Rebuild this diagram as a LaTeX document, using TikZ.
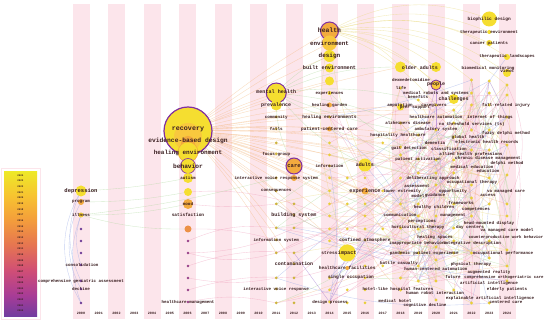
\documentclass[tikz,border=0pt]{standalone}
\usepackage{fontspec}
\setmonofont{Liberation Mono}
\definecolor{cStripe}{RGB}{252,229,235}
\definecolor{cY}{RGB}{245,222,48}
\definecolor{cY2}{RGB}{240,205,60}
\definecolor{cY3}{RGB}{248,200,62}
\definecolor{cO}{RGB}{242,170,62}
\definecolor{cO2}{RGB}{236,145,70}
\definecolor{cRing}{RGB}{128,48,160}
\definecolor{cP}{RGB}{110,60,150}
\definecolor{cM}{RGB}{150,62,136}
\definecolor{cD}{RGB}{205,180,62}
\definecolor{cDot}{RGB}{232,206,58}
\definecolor{labc}{RGB}{58,30,32}
\definecolor{lkP}{RGB}{238,150,182}
\definecolor{lkO}{RGB}{244,182,122}
\definecolor{lkG}{RGB}{168,214,150}
\definecolor{lkB}{RGB}{140,160,230}
\definecolor{lkY}{RGB}{232,214,110}
\definecolor{lkV}{RGB}{140,90,200}
\definecolor{lg1}{RGB}{238,232,40}
\definecolor{lg2}{RGB}{247,196,48}
\definecolor{lg3}{RGB}{244,160,58}
\definecolor{lg4}{RGB}{230,118,80}
\definecolor{lg5}{RGB}{208,78,118}
\definecolor{lg6}{RGB}{168,60,150}
\definecolor{lg7}{RGB}{112,60,160}
\pgfdeclareverticalshading{legsh}{100bp}{color(0bp)=(lg7); color(25bp)=(lg7); color(32.5bp)=(lg6); color(41bp)=(lg5); color(50bp)=(lg4); color(59bp)=(lg3); color(67bp)=(lg2); color(75bp)=(lg1); color(100bp)=(lg1)}
\pgfdeclarelayer{bgl}
\pgfdeclarelayer{lnk}
\pgfsetlayers{bgl,lnk,main}
\pgfmathdeclarerandomlist{lkc}{{lkP}{lkP}{lkP}{lkO}{lkG}{lkB}{lkY}}
\pgfmathdeclarerandomlist{midn}{{c9}{c10}{c12}{c13}{c15}{e3}{e5}{e6}{e8}{e9}{f10}{f11}{f13}{f14}{f15}{f16}{f17}{f18}{f19}{f20}{f21}{g1}{g2}{h1}{h2}{h7}{f6}{f8}{f9}{h4}{h6}{h9}}
\tikzset{
  kc/.style 2 args={circle,inner sep=0pt,minimum size=#1pt,fill=#2},
  lb/.style={inner sep=0pt,text=labc,font=\fontsize{#1}{#1}\selectfont\ttfamily\bfseries},
  yl/.style={inner sep=0pt,text=labc,font=\fontsize{3.4}{3.4}\selectfont\ttfamily\bfseries},
  ll/.style={inner sep=0pt,text=labc,font=\fontsize{2.5}{2.5}\selectfont\ttfamily\bfseries},
  lk/.style={draw=#1,line width=0.35pt,opacity=0.5},
  ringed/.style={draw=cRing,line width=#1},
  stripe/.style={fill=cStripe},
}
\newcommand\tlD[5]{\node[kc={#4}{#5}] (#1) at (#2,#3) {};}
\newcommand\tlL[5]{\node[lb=#5] (#1) at (#2,#3) {#4};}
\begin{document}
\begin{tikzpicture}[x=1pt,y=-1pt]
\useasboundingbox (0,0) rectangle (550,323);
\begin{pgfonlayer}{bgl}
\fill[white] (0,0) rectangle (550,323);
\foreach \i in {0,2,...,24} \fill[stripe] ({81+\i*17.75-8.5},4) rectangle ({81+\i*17.75+8.5},319);
\draw[cStripe,line width=1pt] (1.5,168.5) rectangle (40,320);
\shade[shading=legsh] (4,172) rectangle (37,317);
\end{pgfonlayer}
% legend labels
\foreach \i [evaluate=\i as \yy using int(2024-\i)] in {0,...,24} \node[ll] (lg\i) at (20.5,{175.5+\i*5.65}) {\yy};
% year labels
\foreach \i [evaluate=\i as \yy using int(2000+\i)] in {0,...,24} \node[yl] (yr\i) at ({81+\i*17.75},313) {\yy};

% ---- 2000
\tlD{a1}{81}{191}{11}{cY}
\tlD{a2}{81}{202}{6}{cO}
\tlD{a3}{81}{215}{5}{cY2}
\tlD{a4}{81}{229}{2.8}{cP}
\tlD{a5}{81}{241}{2.8}{cP}
\tlD{a6}{81}{253}{2.8}{cP}
\tlD{a7}{81}{265}{2.8}{cP}
\tlD{a8}{81}{281}{2.8}{cP}
\tlD{a9}{81}{289}{2.8}{cP}
\tlD{a10}{81}{303}{2.8}{cP}
% ---- 2006
\node[kc={48}{cY},ringed=1.2pt] (rec) at (188,131) {};
\fill[cY3] (188,137) circle (14);
\fill[cO] (188,143) circle (7);
\node[kc={20}{cY},draw=cO,line width=0.5pt] (b2) at (188,152) {};
\node[kc={15}{cY},ringed=0.6pt] (b3) at (188,166) {};
\tlD{b4}{188}{178}{10}{cY}
\tlD{b5}{188}{192}{8}{cY}
\tlD{b6}{188}{204}{10}{cO}
\tlD{b7}{188}{229}{7}{cO2}
\tlD{b8}{188}{241}{2.8}{cM}
\tlD{b9}{188}{253}{2.8}{cM}
\tlD{b10}{188}{266}{2.8}{cM}
\tlD{b11}{188}{278}{2.8}{cM}
\tlD{b12}{188}{290}{2.8}{cM}
\tlD{b13}{188}{302}{2.8}{cM}
% ---- 2011
\node[kc={20}{cY},ringed=1pt] (c1) at (276.25,93) {};
\tlD{c2}{276.25}{105}{11}{cY}
\foreach \y [count=\n from 3] in {117,129,143,154,178,191,204,228,240,253,278,289,303} \node[kc={3}{cD}] (c\n) at (276.25,\y) {};
% ---- 2012
\node[kc={16}{cO},ringed=1pt] (e1) at (294,166) {};
\tlD{e2}{294}{178}{6}{cO}
\foreach \y [count=\n from 3] in {204,215,228,253,264,278,303} \node[kc={3}{cD}] (e\n) at (294,\y) {};
% ---- 2014
\node[kc={18}{cO},ringed=1pt] (f1) at (329.5,31) {};
\tlD{f2}{329.5}{43}{15}{cY3}
\tlD{f3}{329.5}{56}{12}{cY}
\tlD{f4}{329.5}{68}{9}{cY}
\tlD{f5}{329.5}{81}{9}{cY}
\tlD{f6}{329.5}{93}{4}{cY}
\tlD{f7}{329.5}{105}{5}{cO}
\tlD{f8}{329.5}{117}{3}{cDot}
\tlD{f9}{329.5}{129}{5}{cO}
\foreach \y [count=\n from 10] in {143,155,166,178,191,204,216,229,241,278,290,302} \node[kc={3}{cDot}] (f\n) at (329.5,\y) {};
% ---- 2015
\tlD{g1}{347.25}{253}{17}{cY}
\tlD{g2}{347.25}{268}{4}{cO}
\foreach \y [count=\n from 3] in {178,204,229,290,303} \node[kc={3}{cDot}] (g\n) at (347.25,\y) {};
% ---- 2016
\tlD{h1}{365}{165}{13}{cY}
\tlD{h2}{365}{191}{7}{cO}
\foreach \y [count=\n from 3] in {178,204,216,229,240,266,278,290,303} \node[kc={3}{cDot}] (h\n) at (365,\y) {};
% ---- 2017
\foreach \y [count=\n] in {143,191,229,266} \node[kc={3}{cDot}] (p17-\n) at (382.75,\y) {};
% ---- right columns
\foreach \c/\xx/\ys in {18/400.5/{88,123,147,155,178,204,228,253,278,290},
  19/418.25/{100,135,159,173,204,216,229,253,266,281},
  20/436/{105,130,160,173,185,216,247,260,281,300},
  21/453.75/{110,123,137,160,173,204,228,241,253,290},
  22/471.5/{80,93,105,130,150,185,198,216,253,303},
  23/489.25/{81,93,105,130,150,178,204,241,258,303},
  24/507/{85,95,117,145,175,204,216,250,266,281}}
  {\foreach \y [count=\i] in \ys {\node[kc={3.2}{cDot}] (p\c-\i) at (\xx,\y) {};}}
\tlD{k1}{400.5}{67}{11}{cY}
\tlD{k2}{400.5}{107}{7}{cY}
\tlD{k3}{436}{67}{10}{cY}
\node[kc={10}{cY3},ringed=0.8pt] (peoc) at (436,85) {};
\tlD{chlc}{453.75}{99}{10}{cY}
\tlD{bioc}{489.25}{19}{15}{cY}
\tlD{tec}{489.25}{32}{4}{cY}
\tlD{cpc}{489.25}{43}{6}{cY}
\tlD{tlc}{507}{57}{6}{cY}
\tlD{vwc}{507}{73}{8}{cY}

% ---- links
\begin{pgfonlayer}{lnk}
\pgfmathsetseed{11}
\foreach \k in {1,...,140}{%
  \pgfmathtruncatemacro\ca{random(18,24)}%
  \pgfmathtruncatemacro\cb{random(18,24)}%
  \pgfmathtruncatemacro\ia{random(1,10)}%
  \pgfmathtruncatemacro\ib{random(1,10)}%
  \pgfmathtruncatemacro\bd{random(0,60)-30}%
  \pgfmathrandomitem\cl{lkc}%
  \draw[lk=\cl] (p\ca-\ia.center) to[bend left=\bd] (p\cb-\ib.center);
}
\foreach \k in {1,...,70}{%
  \pgfmathrandomitem\na{midn}%
  \pgfmathtruncatemacro\cb{random(18,24)}%
  \pgfmathtruncatemacro\ib{random(1,10)}%
  \pgfmathtruncatemacro\bd{random(0,40)-20}%
  \pgfmathrandomitem\cl{lkc}%
  \draw[lk=\cl] (\na.center) to[bend left=\bd] (p\cb-\ib.center);
}
\foreach \t in {c1,c2,c4,c6,c8,c10,c12,e1,e2,e4,e7,f1,f2,f3,f5,f7,f9,f12,f14,f16,h1,h2,h5,g1,k1,p18-3,p19-2,p20-4,p21-1,p22-5,p23-6,p24-3,p20-8,p22-9,p19-6,p21-5,p17-1,p17-2,p23-3,p24-6}
  \draw[lk=lkO] (rec.center) to[bend left=5] (\t.center);
\foreach \t/\b in {bioc/25,k1/20,peoc/18,chlc/15,p22-1/20,p24-1/22,tlc/25,vwc/22,h1/-10,g1/-15,p20-1/15,tec/22,k3/18,cpc/20}
  \draw[lk=lkY] (f1.center) to[bend left=\b] (\t.center);
\foreach \t/\b in {f4/10,f8/-10,h1/-12,k1/12,p19-1/10,p18-2/8,e1/-15,f3/12,p21-3/-8}
  \draw[lk=lkG] (c1.center) to[bend left=\b] (\t.center);
\foreach \s/\t/\b in {b8/c10/15,b9/c12/-15,b10/e6/12,b11/c13/-10,b12/e8/10,b7/c11/8,b6/c9/-6,b13/c15/12,b5/e3/10,b9/e5/-12}
  \draw[lk=lkP] (\s.center) to[bend left=\b] (\t.center);
\foreach \s/\t/\b in {a1/a10/-30,a1/a8/-25,a3/a10/-20,a2/a9/-28,a3/a7/-18}
  \draw[lk=lkB] (\s.center) to[bend left=\b] (\t.center);
\foreach \s/\t/\b in {a3/b6/-6,a2/b5/-5,a3/c7/-4,a3/b7/-8,a1/b4/-4}
  \draw[lk=lkG] (\s.center) to[bend left=\b] (\t.center);
\draw[lk=lkV] (peoc.center) -- (p20-2.center);
\draw[lk=lkV] (peoc.center) -- (p19-3.center);
\draw[lk=lkB] (p23-1.center) -- (p22-4.center);
\draw[lk=lkB] (p23-1.center) -- (p24-3.center);
\draw[lk=lkB] (p23-1.center) -- (tlc.center);
\draw[lk=lkV] (e6.center) -- (f21.center);
\draw[lk=lkV] (g1.center) -- (f21.center);
\draw[lk=lkV] (h7.center) -- (f21.center);
\draw[lk=lkB] (f12.center) to[bend left=10] (f21.center);
\end{pgfonlayer}

% ---- labels left and middle
\tlL{a1t}{81}{191}{depression}{5.5}
\tlL{a2t}{81}{202}{program}{4.2}
\tlL{a3t}{81}{215}{illness}{4.2}
\tlL{a7t}{82}{265}{consolidation}{4.2}
\tlL{a8t}{81}{281}{comprehensive geriatric assessment}{4.2}
\tlL{a9t}{81}{289}{decline}{4.2}
\tlL{rect}{188}{129}{recovery}{6.7}
\tlL{ebdt}{188}{141}{evidence-based design}{6.3}
\tlL{het}{188}{153}{healing environment}{6.0}
\tlL{beht}{188}{166}{behavior}{6.2}
\tlL{autt}{188}{178}{autism}{4.2}
\tlL{moot}{188}{204}{mood}{4.2}
\tlL{satt}{188}{215}{satisfaction}{4.5}
\tlL{hcmt}{188}{302}{healthcare management}{4.2}
\tlL{mht}{276.25}{92}{mental health}{5.1}
\tlL{prt}{276.25}{105}{prevalence}{5}
\tlL{cmt}{276.25}{117}{community}{4.2}
\tlL{fat}{276.25}{129}{falls}{4.2}
\tlL{fgt}{276.25}{154}{focus group}{4.2}
\tlL{ivst}{276.25}{178}{interactive voice response system}{4.2}
\tlL{cst}{276.25}{191}{consequences}{4.2}
\tlL{ist}{276.25}{240}{information system}{4.2}
\tlL{ivrt}{276.25}{289}{interactive voice response}{4.2}
\tlL{cat}{294}{166}{care}{5.5}
\tlL{bst}{294}{215}{building system}{5}
\tlL{cot}{294}{264}{contamination}{4.9}
\tlL{hlt}{329.5}{30}{health}{6.4}
\tlL{ent}{329.5}{43}{environment}{5.9}
\tlL{det}{329.5}{56}{design}{6}
\tlL{bet}{329.5}{68}{built environment}{5.2}
\tlL{ext}{329.5}{93}{experiences}{4.2}
\tlL{hgt}{329.5}{105}{healing garden}{4.2}
\tlL{hest}{329.5}{117}{healing environments}{4.5}
\tlL{pct}{329.5}{129}{patient-centered care}{4.5}
\tlL{inft}{329.5}{166}{information}{4.2}
\tlL{stt}{329.5}{253}{stress}{4.5}
\tlL{dpt}{330}{302}{design process}{4.2}
\tlL{imt}{347.25}{253}{impact}{5.2}
\tlL{hft}{347.25}{268}{healthcare facilities}{4.5}
\tlL{sot}{351}{277}{single occupation}{4.5}
\tlL{adt}{365}{165}{adults}{5}
\tlL{expt}{365}{191}{experience}{5.2}
\tlL{cft}{365}{240}{confined atmosphere}{4.5}
\tlL{oat}{420}{68}{older adults}{5}
\tlL{peot}{436}{84}{people}{5}
\tlL{chlt}{453.75}{99}{challenges}{5}
\tlL{biot}{489.25}{19}{biophilic design}{4.5}
\tlL{vwt}{507}{71}{views}{4.5}
% ---- labels right
\foreach \n/\x/\y/\tx/\sz in {
 te/489/32/therapeutic environment/4.2, cpt/489/43/cancer patients/4.2,
 tls/507/56/therapeutic landscapes/4.2, bm/488/68/biomedical monitoring/4.2,
 dex/411/80/dexmedetomidine/4.2, lif/401/88/life/4.2,
 mrs/436/93/medical robots and systems/4.2, ben/418/97/benefits/4.2,
 amp/400/105/amputation/4.2, cgv/434/105/caregivers/4.2,
 fri/506/105/fall-related injury/4.2, pes/415/108/peer support/4.2,
 hca/436/117/healthcare automation/4.2, iot/490/117/internet of things/4.2,
 alz/408/123/alzheimers disease/4.2, nts/472/124/no threshold services (ts)/4.2,
 amb/436/129/ambulatory system/4.2, fdm/506/133/fuzzy delphi method/4.2,
 hsp/398/135/hospitality healthcare/4.2, ghl/468/137/global health/4.2,
 ehr/487/142/electronic health records/4.2, dmn/435/143/dementia/4.2,
 gdt/409/148/gait detection/4.2, cls/449/148.5/classification/4.2,
 ahp/471/154/allied health professions/4.2, cdm/488/158/chronic disease management/4.2,
 pac/418/159/patient activation/4.2, dlm/507/163/delphi method/4.2,
 med/472/167/medical education/4.2, edu/488/171/education/4.2,
 dla/433/178/deliberating approach/4.2, ocp/472/182/occupational therapy/4.2,
 asm/417/186/assessment/4.2, lex/402/191/lower extremity/4.2,
 opp/453/191/opportunity/4.2, vmc/506/191/va managed care/4.2,
 mdl/418/196/model/4.2, gdn/435/195/guidance/4.2, acs/488/195/access/4.2,
 frm/461/203/frameworks/4.2, hch/434/207/healthy children/4.2,
 cmp/476/210/competences/4.2, cmm/400/215/communication/4.2,
 mgt/453/216/management/4.2, prc/422/221/perceptions/4.2,
 hmd/489/223/head-mounted display/4.2, htt/418/227/horticultural therapy/4.2,
 dct/470/227/day centers/4.2, vmm/507/230/va managed care model/4.2,
 hsc/435/237/healing spaces/4.2, cwb/506/237/counterproductive work behavior/4.0,
 iab/418/243/inappropriate behaviors/4.2, itd/472/243/integrative description/4.2,
 pnd/400/253/pandemic/4.2, pex/436/253/patient experience/4.2,
 opf/503/253/occupational performance/4.2, btc/399/263/battle casualty/4.2,
 pht/471/264/physical therapy/4.2, hcn/436/269/human-centered automation/4.2,
 aug/489/272/augmented reality/4.2, fut/453/277/future/4.2,
 cog/504/277/comprehensive orthogeriatric care/4.0, ain/489/283/artificial intelligence/4.2,
 hlh/398/289/hotel-like hospital features/4.2, eld/507/289/elderly patients/4.2,
 hri/435/293/human robot interaction/4.2, xai/490/298/explainable artificial intelligence/4.2,
 mhl/395/301/medical hotel/4.2, ccr/506/302/centered care/4.2,
 cdc/425/305.5/cognitive decline/4.2}
 \node[lb=\sz] (\n) at (\x,\y) {\tx};
\end{tikzpicture}
\end{document}
